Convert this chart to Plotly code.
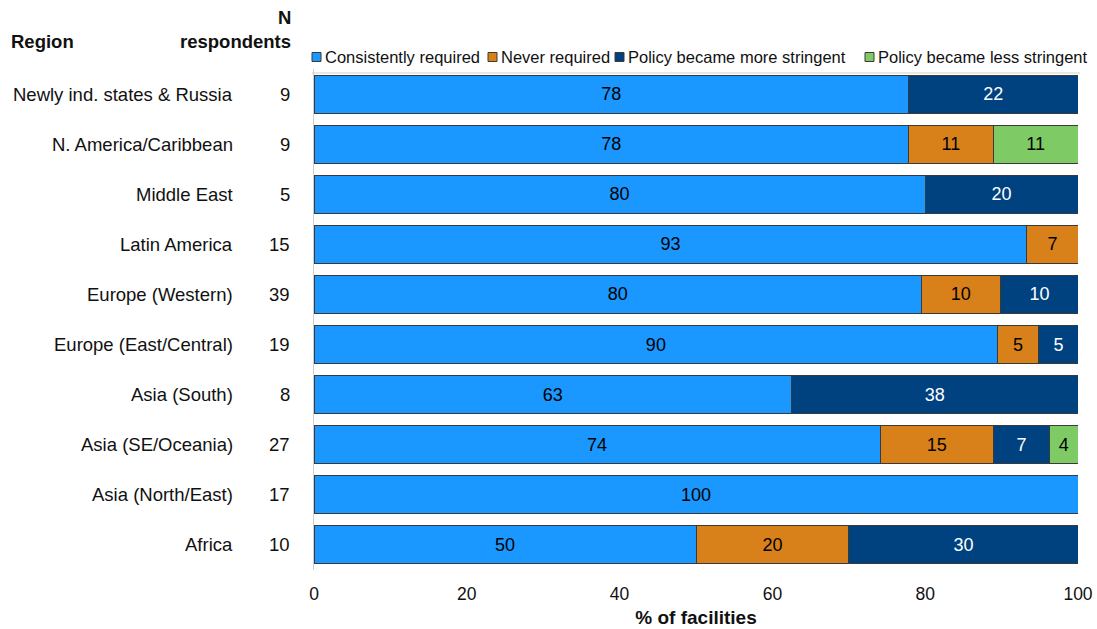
import plotly.graph_objects as go

regions = ["Newly ind. states & Russia", "N. America/Caribbean", "Middle East", "Latin America",
           "Europe (Western)", "Europe (East/Central)", "Asia (South)", "Asia (SE/Oceania)",
           "Asia (North/East)", "Africa"]
n_respondents = [9, 9, 5, 15, 39, 19, 8, 27, 17, 10]

consistently = [77.8, 77.8, 80, 93.3, 79.5, 89.5, 62.5, 74.1, 100, 50]
never = [None, 11.1, None, 6.7, 10.3, 5.3, None, 14.8, None, 20]
more_stringent = [22.2, None, 20, None, 10.3, 5.3, 37.5, 7.4, None, 30]
less_stringent = [None, 11.1, None, None, None, None, None, 3.7, None, None]

series = [
    ("Consistently required", consistently, "#1A98FF", "black"),
    ("Never required", never, "#D8801A", "black"),
    ("Policy became more stringent", more_stringent, "#00427F", "white"),
    ("Policy became less stringent", less_stringent, "#7ECB65", "black"),
]

FONT = "Liberation Sans, Arial, sans-serif"
LBL = 18.5

fig = go.Figure()
for name, vals, col, tcol in series:
    fig.add_trace(go.Bar(
        y=regions, x=vals, name=name, orientation="h",
        marker=dict(color=col, line=dict(color="#3a3a3a", width=1)),
        texttemplate="%{x:.0f}", textposition="inside", insidetextanchor="middle",
        textangle=0, constraintext="none",
        textfont=dict(color=tcol, size=18, family=FONT),
        showlegend=False,
    ))

L, R, T, B = 314, 19, 69, 59
W, H = 1097, 629
pw = W - L - R
ph = H - T - B

def px(x):
    return (x - L) / pw

def py(y):
    return (H - B - y) / ph

annotations = []
for reg, n in zip(regions, n_respondents):
    annotations.append(dict(x=px(235), y=reg, xref="paper", yref="y", text=reg,
                            xanchor="right", yanchor="middle", showarrow=False,
                            font=dict(size=LBL, color="#111", family=FONT)))
    annotations.append(dict(x=px(292), y=reg, xref="paper", yref="y", text=str(n),
                            xanchor="right", yanchor="middle", showarrow=False,
                            font=dict(size=LBL, color="#111", family=FONT)))

annotations.append(dict(x=px(9), y=py(42), xref="paper", yref="paper", text="<b>Region</b>",
                        xanchor="left", yanchor="middle", showarrow=False,
                        font=dict(size=LBL, color="#111", family=FONT)))
annotations.append(dict(x=px(293), y=py(18), xref="paper", yref="paper", text="<b>N</b>",
                        xanchor="right", yanchor="middle", showarrow=False,
                        font=dict(size=LBL, color="#111", family=FONT)))
annotations.append(dict(x=px(293), y=py(42), xref="paper", yref="paper", text="<b>respondents</b>",
                        xanchor="right", yanchor="middle", showarrow=False,
                        font=dict(size=LBL, color="#111", family=FONT)))

# manual legend
leg_sq = [312, 488, 615, 865]
shapes = []
for (name, vals, col, tcol), sx in zip(series, leg_sq):
    shapes.append(dict(type="rect", xref="paper", yref="paper",
                       x0=px(sx), x1=px(sx + 9), y0=py(61.5), y1=py(52.5),
                       fillcolor=col, line=dict(color="#3a3a3a", width=1)))
    annotations.append(dict(x=px(sx + 11), y=py(57), xref="paper", yref="paper", text=name,
                            xanchor="left", yanchor="middle", showarrow=False,
                            font=dict(size=16.5, color="#111", family=FONT)))

shapes.append(dict(type="line", xref="paper", yref="paper", x0=px(312), x1=px(1080),
                   y0=py(73), y1=py(73), line=dict(color="#cfcfcf", width=1)))

fig.update_layout(
    width=W, height=H,
    margin=dict(l=L, r=R, t=T, b=B, autoexpand=False),
    barmode="stack", bargap=0.24,
    plot_bgcolor="white", paper_bgcolor="white",
    font=dict(family=FONT, size=17, color="#111"),
    annotations=annotations, shapes=shapes,
    uniformtext=dict(minsize=10, mode="show"),
)
fig.update_xaxes(range=[0, 100], tickvals=[0, 20, 40, 60, 80, 100], showgrid=False,
                 zeroline=False, showline=False, ticks="", automargin=False,
                 ticklabeloverflow="allow", ticklabelstandoff=11,
                 tickfont=dict(size=17.5, family=FONT, color="#111"),
                 title=dict(text="<b>% of facilities</b>", font=dict(size=19, family=FONT, color="#111"),
                            standoff=8))
fig.update_yaxes(autorange="reversed", showticklabels=False, showgrid=False, zeroline=False,
                 automargin=False,
                 showline=True, linecolor="#cfcfcf", linewidth=1, ticks="")

fig.write_html("out.html", config={"responsive": False, "displayModeBar": False},
               post_script="document.body.style.margin='0';document.body.style.overflow='hidden';")
